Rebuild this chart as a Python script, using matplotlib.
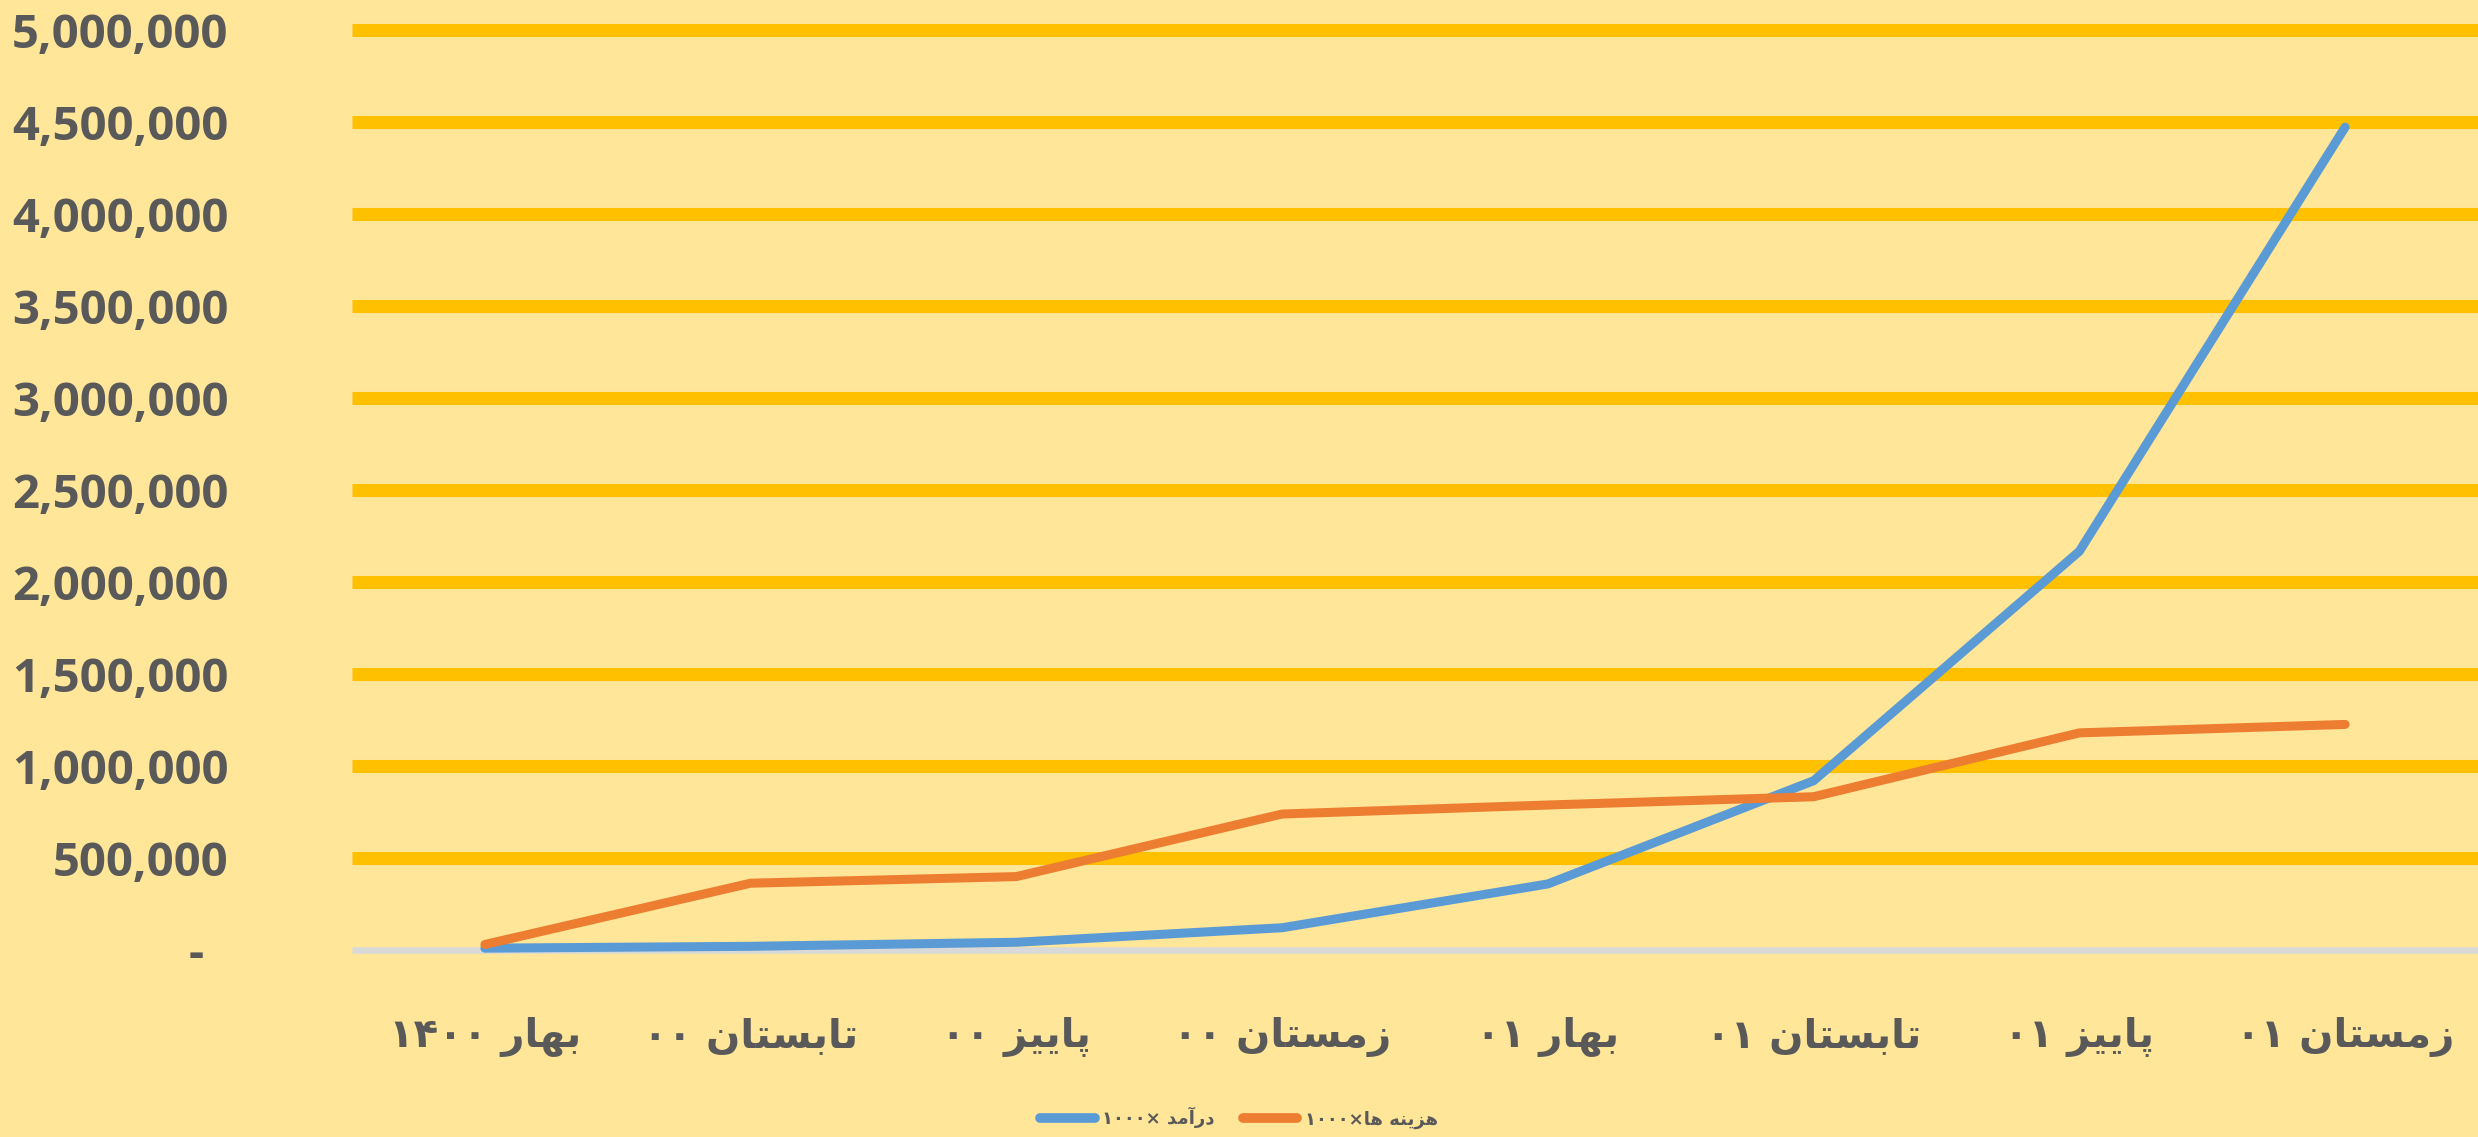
import matplotlib
matplotlib.use('Agg')
import matplotlib.pyplot as plt
from matplotlib.ticker import FuncFormatter

# فصل ها (logical order)
seasons = ['بهار ۱۴۰۰', 'تابستان ۰۰', 'پاییز ۰۰', 'زمستان ۰۰',
           'بهار ۰۱', 'تابستان ۰۱', 'پاییز ۰۱', 'زمستان ۰۱']
income = [10000, 20000, 42000, 121000, 359000, 920000, 2167000, 4472000]
costs = [30000, 363000, 399000, 739000, 788000, 833000, 1180000, 1226000]
income_label = 'درآمد ×۱۰۰۰'
costs_label = 'هزینه ها×۱۰۰۰'
yticks = [0, 500000, 1000000, 1500000, 2000000, 2500000,
          3000000, 3500000, 4000000, 4500000, 5000000]

BG = '#FFE699'
GRID = '#FFC000'
TXT = '#595959'
BLUE = '#5B9BD5'
ORANGE = '#ED7D31'

# isolated, final, initial, medial
FORMS = {
    'ا': ('\uFE8D', '\uFE8E', None, None),
    'آ': ('\uFE81', '\uFE82', None, None),
    'ب': ('\uFE8F', '\uFE90', '\uFE91', '\uFE92'),
    'پ': ('\uFB56', '\uFB57', '\uFB58', '\uFB59'),
    'ت': ('\uFE95', '\uFE96', '\uFE97', '\uFE98'),
    'د': ('\uFEA9', '\uFEAA', None, None),
    'ر': ('\uFEAD', '\uFEAE', None, None),
    'ز': ('\uFEAF', '\uFEB0', None, None),
    'س': ('\uFEB1', '\uFEB2', '\uFEB3', '\uFEB4'),
    'م': ('\uFEE1', '\uFEE2', '\uFEE3', '\uFEE4'),
    'ن': ('\uFEE5', '\uFEE6', '\uFEE7', '\uFEE8'),
    'ه': ('\uFEE9', '\uFEEA', '\uFEEB', '\uFEEC'),
    'ی': ('\uFBFC', '\uFBFD', '\uFBFE', '\uFBFF'),
}


def fa(text):
    # shape arabic letters, then lay out right-to-left (digit runs stay LTR)
    out = []
    for i, ch in enumerate(text):
        if ch not in FORMS:
            out.append(ch)
            continue
        prv = text[i - 1] if i > 0 else ''
        nxt = text[i + 1] if i + 1 < len(text) else ''
        jp = prv in FORMS and FORMS[prv][2] is not None
        jn = nxt in FORMS and FORMS[ch][2] is not None
        f = FORMS[ch]
        if jp and jn:
            out.append(f[3])
        elif jp:
            out.append(f[1])
        elif jn:
            out.append(f[2])
        else:
            out.append(f[0])
    tokens = []
    for ch in out:
        isdig = '\u06F0' <= ch <= '\u06F9'
        if tokens and tokens[-1][0] == isdig:
            tokens[-1][1].append(ch)
        else:
            tokens.append([isdig, [ch]])
    res = ''
    for isdig, chars in reversed(tokens):
        res += ''.join(chars) if isdig else ''.join(reversed(chars))
    return res


fig = plt.figure(figsize=(24.78, 11.37), dpi=100, facecolor=BG)
ax = fig.add_axes([352 / 2478, 1 - 950 / 1137, 1 - 352 / 2478, 920 / 1137])
ax.set_facecolor(BG)

x = list(range(len(seasons)))
for v in yticks[1:]:
    ax.axhline(v, color=GRID, lw=9.4, zorder=1, clip_on=False, solid_capstyle='butt')
ax.axhline(0, color='#D9D9D9', lw=4.7, zorder=1, clip_on=False, solid_capstyle='butt')

ax.plot(x, income, color=BLUE, lw=6.5, solid_capstyle='round',
        solid_joinstyle='round', zorder=3, clip_on=False, label=fa(income_label))
ax.plot(x, costs, color=ORANGE, lw=6.5, solid_capstyle='round',
        solid_joinstyle='round', zorder=3, clip_on=False, label=fa(costs_label))

ax.set_xlim(-0.5, len(seasons) - 0.5)
ax.set_ylim(0, 5000000)
ax.set_yticks(yticks)
ax.yaxis.set_major_formatter(FuncFormatter(lambda v, p: '-  ' if v == 0 else f'{v:,.0f}'))
ax.set_xticks(x)
ax.set_xticklabels([fa(s) for s in seasons])

for s in ax.spines.values():
    s.set_visible(False)
ax.tick_params(axis='y', length=0, pad=89, colors=TXT)
ax.tick_params(axis='x', length=0, pad=48, colors=TXT)
for lab in ax.get_yticklabels():
    lab.set_fontfamily('Open Sans')
    lab.set_fontweight('bold')
    lab.set_fontsize(34)
for lab in ax.get_xticklabels():
    lab.set_fontfamily('DejaVu Sans')
    lab.set_fontweight('bold')
    lab.set_fontsize(29)

leg = fig.legend(loc='center', bbox_to_anchor=(0.5, 1 - 1118 / 1137), ncol=2,
                 frameon=False, handlelength=3.0, handletextpad=0.4,
                 columnspacing=1.6,
                 prop={'family': 'DejaVu Sans', 'weight': 'bold', 'size': 13})
for t in leg.get_texts():
    t.set_color(TXT)
for h in leg.get_lines():
    h.set_linewidth(7)

fig.savefig('out.png', dpi=100, facecolor=BG)
